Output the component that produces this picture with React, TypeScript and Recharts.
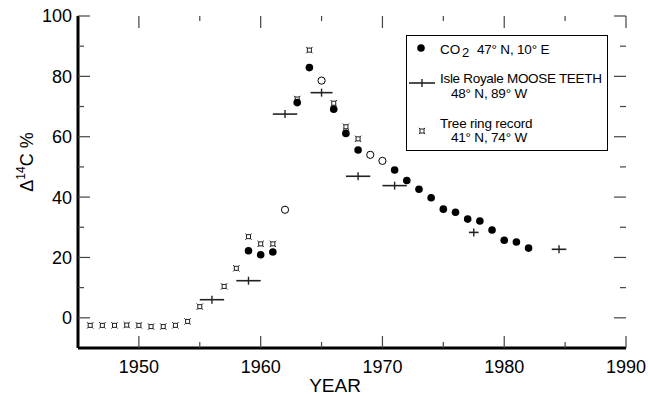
import { ScatterChart, Scatter, XAxis, YAxis, ErrorBar } from 'recharts';

const FONT = '"Liberation Sans", Arial, Helvetica, sans-serif';

// tick positions
const xMajorTicks = [1950, 1960, 1970, 1980, 1990];
const xMinorTicks = [1955, 1965, 1975, 1985];
const yMajorTicks = [0, 20, 40, 60, 80, 100];
const yMinorTicks = [10, 30, 50, 70, 90];
const xDomain = [1945, 1990];
const yDomain = [-10, 100];

// tree ring record, 41N 74W
const treeYears = [1946, 1947, 1948, 1949, 1950, 1951, 1952, 1953, 1954, 1955, 1957, 1958, 1959, 1960, 1961, 1963, 1964, 1966, 1967, 1968];
const treeValues = [-2.5, -2.5, -2.5, -2.4, -2.5, -2.9, -2.9, -2.5, -1.2, 3.7, 10.4, 16.4, 26.9, 24.5, 24.5, 72.5, 88.7, 71.1, 63.3, 59.3];

// CO2 47N 10E (filled)
const co2Years = [1959, 1960, 1961, 1963, 1964, 1966, 1967, 1968, 1971, 1972, 1973, 1974, 1975, 1976, 1977, 1978, 1979, 1980, 1981, 1982];
const co2Values = [22.2, 20.9, 21.8, 71.3, 82.9, 69.1, 61.1, 55.6, 49, 45.5, 42.6, 39.8, 36, 35, 32.7, 32.1, 29.1, 25.7, 25.1, 23.1];

// CO2 open circles
const co2OpenYears = [1962, 1965, 1969, 1970];
const co2OpenValues = [35.8, 78.6, 54, 52];

// Isle Royale moose teeth, with year range
const mooseYears = [1956, 1959, 1962, 1965, 1968, 1971, 1977.5, 1984.5];
const mooseValues = [6, 12.3, 67.5, 74.6, 46.9, 43.8, 28.3, 22.7];
const mooseSpread = [1, 1, 1, 0.9, 1, 1, 0.4, 0.6];

const treeData = treeYears.map((year, i) => ({ year, value: treeValues[i] }));
const co2Data = co2Years.map((year, i) => ({ year, value: co2Values[i] }));
const co2OpenData = co2OpenYears.map((year, i) => ({ year, value: co2OpenValues[i] }));
const mooseData = mooseYears.map((year, i) => ({ year, value: mooseValues[i], err: mooseSpread[i] }));

// inward tick marks on all four sides of the frame
const frameTicks = [
  ...xMajorTicks.map((year) => ({ year, value: yDomain[0], dir: 'up', len: 12 })),
  ...xMinorTicks.map((year) => ({ year, value: yDomain[0], dir: 'up', len: 6 })),
  ...xMajorTicks.map((year) => ({ year, value: yDomain[1], dir: 'down', len: 12 })),
  ...xMinorTicks.map((year) => ({ year, value: yDomain[1], dir: 'down', len: 5 })),
  ...yMajorTicks.map((value) => ({ year: xDomain[0], value, dir: 'right', len: 12 })),
  ...yMinorTicks.map((value) => ({ year: xDomain[0], value, dir: 'right', len: 6 })),
  ...yMajorTicks.map((value) => ({ year: xDomain[1], value, dir: 'left', len: 12 })),
  ...yMinorTicks.map((value) => ({ year: xDomain[1], value, dir: 'left', len: 6 })),
];

const frame = { stroke: '#000', strokeWidth: 3 };

const TickMark = ({ cx, cy, payload }: any) => {
  const { dir, len } = payload;
  const dx = dir === 'right' ? len : dir === 'left' ? -len : 0;
  const dy = dir === 'up' ? -len : dir === 'down' ? len : 0;
  return <line x1={cx} y1={cy} x2={cx + dx} y2={cy + dy} stroke="#444" strokeWidth={1.2} />;
};

const TreeMark = ({ cx, cy }: any) => (
  <g stroke="#222" strokeWidth={1} fill="none">
    <rect x={cx - 2} y={cy - 2} width={4} height={4} />
    <line x1={cx - 2} y1={cy - 2} x2={cx - 3.2} y2={cy - 3.2} />
    <line x1={cx + 2} y1={cy - 2} x2={cx + 3.2} y2={cy - 3.2} />
    <line x1={cx - 2} y1={cy + 2} x2={cx - 3.2} y2={cy + 3.2} />
    <line x1={cx + 2} y1={cy + 2} x2={cx + 3.2} y2={cy + 3.2} />
  </g>
);

const DotMark = ({ cx, cy }: any) => <circle cx={cx} cy={cy} r={3.8} fill="#000" />;
const OpenMark = ({ cx, cy }: any) => <circle cx={cx} cy={cy} r={3.6} fill="#fff" stroke="#000" strokeWidth={1} />;
const MooseMark = ({ cx, cy }: any) => <line x1={cx} x2={cx} y1={cy - 4} y2={cy + 4} stroke="#222" strokeWidth={1.4} />;

const noLabel = () => <g />;

// label offsets: tickSize -12 plus default tickMargin 2
const renderYearLabel = ({ x, y, payload }: any) => (
  <text x={x} y={y + 35} textAnchor="middle" fontSize={18} fontFamily={FONT} fill="#000">
    {payload.value}
  </text>
);

const renderValueLabel = ({ x, y, payload }: any) => (
  <text x={x - 16} y={y} dy="0.36em" textAnchor="end" fontSize={18} fontFamily={FONT} fill="#000">
    {payload.value}
  </text>
);

const YLabel = ({ viewBox }: any) => {
  const x = viewBox.x + 33;
  const y = viewBox.y + 146;
  return (
    <text x={x} y={y} transform={`rotate(-90 ${x} ${y})`} textAnchor="middle" fontSize={18} fontFamily={FONT} fill="#000">
      Δ
      <tspan fontSize={12} dy={-8}>14</tspan>
      <tspan dy={8}>C %</tspan>
    </text>
  );
};

const XLabel = ({ viewBox }: any) => (
  <text x={viewBox.x + 257} y={viewBox.y + 44} textAnchor="middle" fontSize={19} fontFamily={FONT} fill="#000">
    YEAR
  </text>
);

const LegendBox = () => (
  <div
    style={{
      position: 'absolute',
      left: 406,
      top: 35,
      width: 202,
      height: 116,
      border: '1px solid #000',
      background: '#fff',
      boxSizing: 'border-box',
    }}
  >
    <svg width={200} height={114} style={{ display: 'block' }} fontFamily={FONT} fontSize={13.5} fill="#000">
      <circle cx={14} cy={12} r={3.8} fill="#000" />
      <text x={33} y={18}>CO</text>
      <text x={55} y={21} fontSize={13}>2</text>
      <text x={70} y={18} letterSpacing={-0.2}>47° N,  10° E</text>

      <line x1={2} x2={28} y1={47} y2={47} stroke="#222" strokeWidth={1.6} />
      <line x1={15} x2={15} y1={43} y2={51} stroke="#222" strokeWidth={1.4} />
      <text x={33} y={47} letterSpacing={-0.3}>Isle Royale MOOSE TEETH</text>
      <text x={44} y={62} letterSpacing={-0.2}>48° N,  89° W</text>

      <TreeMark cx={15} cy={95} />
      <text x={33} y={92} letterSpacing={-0.2}>Tree ring record</text>
      <text x={44} y={106} letterSpacing={-0.2}>41° N,  74° W</text>
    </svg>
  </div>
);

const xCommon = { type: 'number' as const, dataKey: 'year', domain: xDomain };
const yCommon = { type: 'number' as const, dataKey: 'value', domain: yDomain };

export default function App() {
  return (
    <div style={{ position: 'absolute', left: 0, top: 0, width: 648, height: 396, background: '#fff' }}>
      <ScatterChart width={648} height={396} margin={{ top: 16, right: 22, bottom: 0, left: 0 }}>
        <XAxis
          {...xCommon}
          height={48}
          ticks={xMajorTicks}
          tickSize={-12}
          tickLine={false}
          tick={renderYearLabel}
          axisLine={frame}
          label={<XLabel />}
        />
        <XAxis {...xCommon} xAxisId="top" orientation="top" height={0} ticks={xMajorTicks} tickLine={false} tick={noLabel} axisLine={frame} />
        <YAxis
          {...yCommon}
          width={78}
          ticks={yMajorTicks}
          tickSize={-12}
          tickLine={false}
          tick={renderValueLabel}
          axisLine={frame}
          label={<YLabel />}
        />
        <YAxis {...yCommon} yAxisId="right" orientation="right" width={0} ticks={yMajorTicks} tickLine={false} tick={noLabel} axisLine={frame} />

        <Scatter name="frame ticks" data={frameTicks} shape={<TickMark />} legendType="none" isAnimationActive={false} />
        <Scatter name="Tree ring record" data={treeData} shape={<TreeMark />} isAnimationActive={false} />
        <Scatter name="CO2 open" data={co2OpenData} shape={<OpenMark />} isAnimationActive={false} />
        <Scatter name="Isle Royale MOOSE TEETH" data={mooseData} shape={<MooseMark />} isAnimationActive={false}>
          <ErrorBar dataKey="err" direction="x" width={0} stroke="#222" strokeWidth={1.6} />
        </Scatter>
        <Scatter name="CO2" data={co2Data} shape={<DotMark />} isAnimationActive={false} />
      </ScatterChart>
      <LegendBox />
    </div>
  );
}
